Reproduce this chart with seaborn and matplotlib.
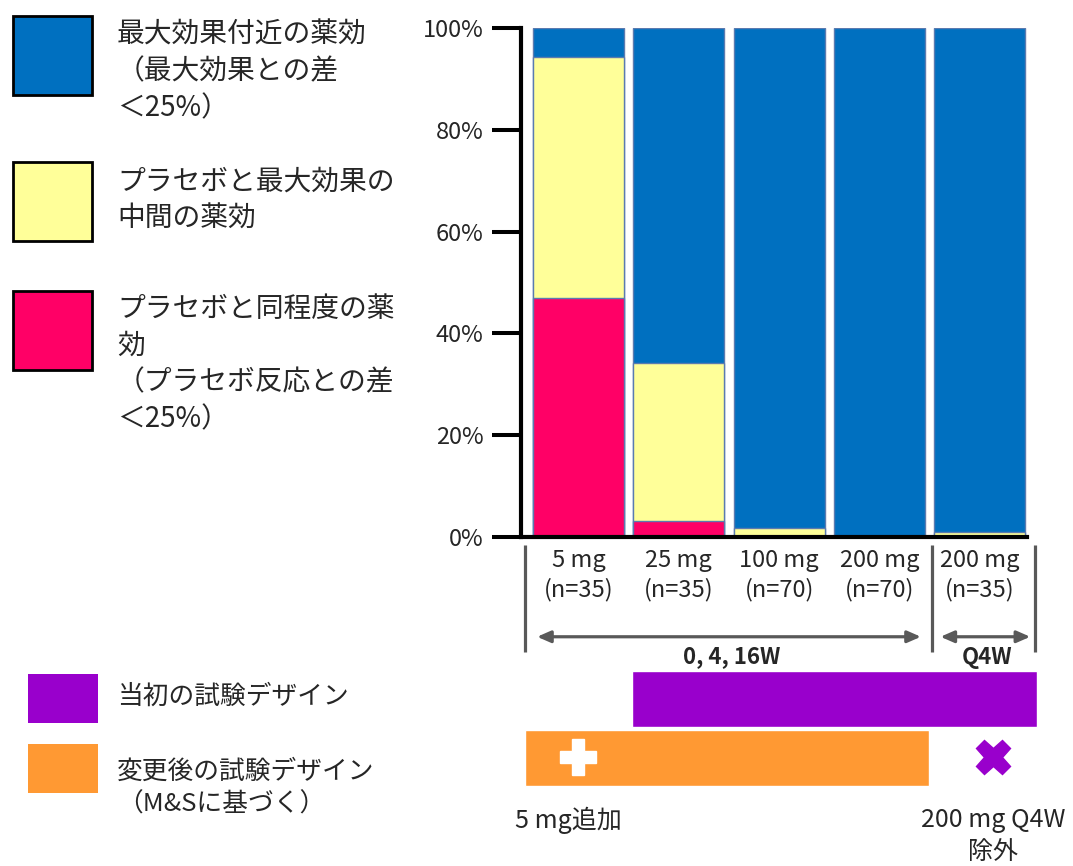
import matplotlib
matplotlib.use("Agg")
import matplotlib.pyplot as plt
from matplotlib.patches import Rectangle
import numpy as np
import pandas as pd
import seaborn as sns

# data (percent of patients per response class)
doses = ['5 mg', '25 mg', '100 mg', '200 mg', '200 mg ']
n_pat = [35, 35, 70, 70, 35]
near_placebo = [47.0, 3.2, 0.0, 0.0, 0.0]      # red
intermediate = [47.3, 31.0, 1.7, 0.0, 0.9]     # yellow
near_max = [5.7, 65.8, 98.3, 100.0, 99.1]      # blue

class_labels = ['最大効果付近の薬効\n（最大効果との差\n＜25%）',
                'プラセボと最大効果の\n中間の薬効',
                'プラセボと同程度の薬\n効\n（プラセボ反応との差\n＜25%）']
design_labels = ['当初の試験デザイン', '変更後の試験デザイン\n（M&Sに基づく）']
initial_design = [1, 4]    # dose index range in original design
modified_design = [0, 3]   # dose index range after M&S
added_dose = 0
removed_dose = 4

BLUE, YELLOW, RED = '#0070C0', '#FFFF99', '#FF0066'
PURPLE, ORANGE, GREY = '#9900CC', '#FF9933', '#595959'
W, H = 1073, 866

sns.set_style('white')
plt.rcParams['font.family'] = ['Noto Sans CJK JP', 'DejaVu Sans']

df = pd.DataFrame({'dose': doses, 'n': n_pat, 'red': near_placebo,
                   'yellow': intermediate, 'blue': near_max})
df['label'] = df['dose'].str.strip() + '\n(n=' + df['n'].astype(str) + ')'
df['top_blue'] = df['red'] + df['yellow'] + df['blue']
df['top_yellow'] = df['red'] + df['yellow']

fig = plt.figure(figsize=(W / 100, H / 100), dpi=100)
ax = fig.add_axes([521 / W, 1 - 537 / H, 506 / W, 509 / H])

# stacked bars: draw cumulative totals back to front
bar_kw = dict(x='label', width=0.906, saturation=1, errorbar=None,
              edgecolor='#5B7BB0', linewidth=1, ax=ax)
sns.barplot(data=df, y='top_blue', color=BLUE, **bar_kw)
sns.barplot(data=df, y='top_yellow', color=YELLOW, **bar_kw)
sns.barplot(data=df, y='red', color=RED, **bar_kw)

ax.set_xlim(-0.573, 4.47)
ax.set_ylim(0, 100)
ax.set_yticks(np.arange(0, 101, 20))
ax.set_yticklabels([f'{v}%' for v in range(0, 101, 20)], fontsize=17)
ax.tick_params(axis='y', length=21, width=2.9, pad=6, color='black', left=True)
ax.tick_params(axis='x', length=0, pad=9, labelsize=17)
for t in ax.get_xticklabels():
    t.set_linespacing(1.3)
ax.set_xlabel('')
ax.set_ylabel('')
sns.despine(ax=ax)
for s in ['left', 'bottom']:
    ax.spines[s].set_linewidth(3)
    ax.spines[s].set_color('black')

# group separators and period arrows under the axis
for xs in [-0.53, 3.52, 4.55]:
    ax.plot([xs, xs], [-1.6, -22.6], color=GREY, lw=2.3, clip_on=False,
            solid_capstyle='butt')
arrow_kw = dict(arrowstyle='<|-|>,head_length=0.8,head_width=0.35', color=GREY, lw=2.3)
ax.annotate('', xy=(-0.44, -19.6), xytext=(3.44, -19.6), arrowprops=arrow_kw,
            annotation_clip=False)
ax.annotate('', xy=(3.58, -19.6), xytext=(4.53, -19.6), arrowprops=arrow_kw,
            annotation_clip=False)
ax.text(1.53, -23.4, '0, 4, 16W', ha='center', va='center', fontsize=16,
        fontweight='bold')
ax.text(4.07, -23.6, 'Q4W', ha='center', va='center', fontsize=16,
        fontweight='bold')

# design bars
ax.barh(-31.8, initial_design[1] - initial_design[0] + 1.04, height=11.0,
        left=initial_design[0] - 0.47, color=PURPLE, clip_on=False)
ax.barh(-43.4, modified_design[1] - modified_design[0] + 1.02, height=11.0,
        left=modified_design[0] - 0.53, color=ORANGE, clip_on=False)
ax.plot(added_dose, -43.2, marker='P', ms=26, color='white', mec='white',
        clip_on=False)
ax.plot(removed_dose + 0.13, -43.2, marker='X', ms=25, color=PURPLE, mec=PURPLE,
        clip_on=False)
ax.text(added_dose - 0.1, -55.6, '5 mg追加', ha='center', va='center', fontsize=18)
ax.text(removed_dose + 0.13, -58.8, '200 mg Q4W\n除外', ha='center', va='center',
        fontsize=18, linespacing=1.3)


def px(x, y):
    return x / W, 1 - y / H


# left legend for response classes
for (y0, color, label, yc) in zip([16, 162, 291], [BLUE, YELLOW, RED], class_labels,
                                  [71.5, 200, 364]):
    fig.add_artist(Rectangle(px(13, y0 + 79), 79 / W, 79 / H, facecolor=color,
                             edgecolor='black', lw=2, transform=fig.transFigure))
    fig.text(*px(117, yc), label, ha='left', va='center', fontsize=20,
             linespacing=1.3)

# legend for designs
for (y0, color, label, yc) in zip([674, 744], [PURPLE, ORANGE], design_labels,
                                  [697, 788.5]):
    fig.add_artist(Rectangle(px(28, y0 + 49), 70 / W, 49 / H, facecolor=color,
                             edgecolor='none', transform=fig.transFigure))
    fig.text(*px(117, yc), label, ha='left', va='center', fontsize=18.5,
             linespacing=1.35)

fig.savefig('out.png', dpi=100)
